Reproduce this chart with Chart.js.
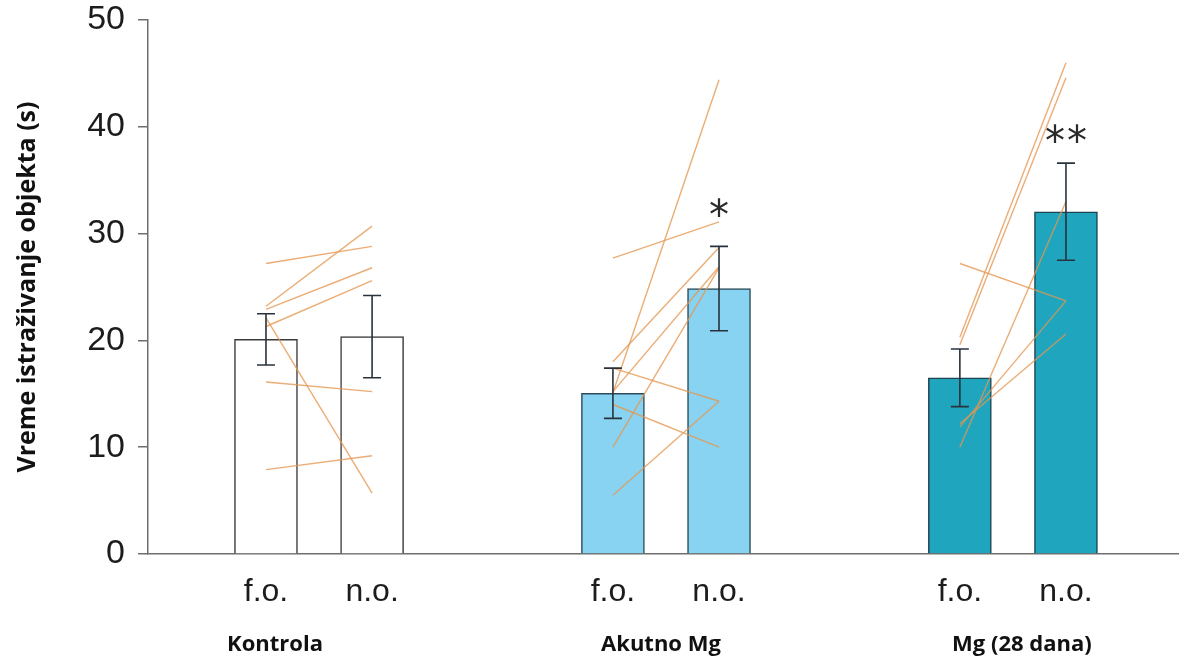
<!DOCTYPE html>
<html>
<head>
<meta charset="utf-8">
<title>Vreme istraživanje objekta</title>
<script src="https://cdn.jsdelivr.net/npm/chart.js@4.4.1/dist/chart.umd.min.js"></script>
<style>
  html, body { margin: 0; padding: 0; background: #ffffff; }
  #wrap { width: 1180px; height: 665px; position: relative; }
</style>
</head>
<body>
<div id="wrap"><canvas id="chart" width="1180" height="665"></canvas></div>
<script>
// ---- data ----
const groups = ['Kontrola', 'Akutno Mg', 'Mg (28 dana)'];
const conditions = ['f.o.', 'n.o.'];
const yTicks = [0, 10, 20, 30, 40, 50];

// group means and SEM (f.o. = familiar object, n.o. = novel object)
const meanFO = [20.1, 15.05, 16.5];
const meanNO = [20.35, 24.85, 32.05];
const semFO = [2.4, 2.35, 2.7];
const semNO = [3.85, 3.95, 4.55];
const significance = ['', '*', '**'];

// individual animals: f.o. value paired with n.o. value
const kontrolaFO = [27.2, 23.2, 22.9, 21.3, 22.1, 16.1, 7.9];
const kontrolaNO = [28.8, 30.7, 26.8, 25.6, 5.7, 15.2, 9.2];
const akutnoFO = [15.1, 27.7, 18.0, 15.2, 10.0, 17.4, 14.0, 5.5];
const akutnoNO = [44.4, 31.1, 28.7, 26.9, 26.8, 14.3, 10.0, 14.3];
const mg28FO = [20.3, 19.6, 27.2, 11.9, 10.0, 12.2];
const mg28NO = [46.0, 44.6, 23.7, 23.7, 33.0, 20.6];

// ---- layout / style ----
const GROUP_GAP = 3.27;           // distance between groups, in bar-slot units
const X_MIN = -1.112, X_MAX = 8.596;
const barFill = ['#ffffff', '#88d3f1', '#1fa6be'];
const barEdge = ['#3a3a3a', '#2c4a58', '#1d4350'];
const pairColor = 'rgba(229,150,78,0.78)';
const axisColor = '#6e6e6e';
const textColor = '#1c1c1c';
const groupLabelShift = [-44, -5, 9];
const markLift = [0, 36, 27];

const xOf = (g, c) => g * GROUP_GAP + c;

// bars
const barPoints = [];
const barBg = [];
const barBorder = [];
groups.forEach((_, g) => {
  barPoints.push({ x: xOf(g, 0), y: meanFO[g] });
  barPoints.push({ x: xOf(g, 1), y: meanNO[g] });
  barBg.push(barFill[g], barFill[g]);
  barBorder.push(barEdge[g], barEdge[g]);
});

const datasets = [{
  type: 'bar',
  data: barPoints,
  backgroundColor: barBg,
  borderColor: barBorder,
  borderWidth: 1.5,
  barThickness: 63,
  order: 3
}];

// paired lines for each animal
const pairs = [[kontrolaFO, kontrolaNO], [akutnoFO, akutnoNO], [mg28FO, mg28NO]];
pairs.forEach(([fo, no], g) => {
  fo.forEach((v, i) => {
    datasets.push({
      type: 'line',
      data: [{ x: xOf(g, 0), y: v }, { x: xOf(g, 1), y: no[i] }],
      borderColor: pairColor,
      borderWidth: 1.4,
      pointRadius: 0,
      fill: false,
      tension: 0,
      order: 1
    });
  });
});

// error bars, significance marks and group names
const overlay = {
  id: 'overlay',
  afterDatasetsDraw(chart) {
    const { ctx, scales: { x, y } } = chart;
    ctx.save();
    ctx.strokeStyle = '#28323c';
    ctx.lineWidth = 1.6;
    groups.forEach((_, g) => {
      [[meanFO[g], semFO[g], 0], [meanNO[g], semNO[g], 1]].forEach(([m, s, c]) => {
        const px = x.getPixelForValue(xOf(g, c));
        const top = y.getPixelForValue(m + s);
        const bot = y.getPixelForValue(m - s);
        ctx.beginPath();
        ctx.moveTo(px, top); ctx.lineTo(px, bot);
        ctx.moveTo(px - 9, top); ctx.lineTo(px + 9, top);
        ctx.moveTo(px - 9, bot); ctx.lineTo(px + 9, bot);
        ctx.stroke();
      });
      const mark = significance[g];
      if (mark) {
        const px = x.getPixelForValue(xOf(g, 1));
        const top = y.getPixelForValue(meanNO[g] + semNO[g]);
        ctx.fillStyle = '#2a2a2a';
        ctx.font = '40px "DejaVu Sans", sans-serif';
        ctx.textAlign = 'center';
        ctx.textBaseline = 'middle';
        const step = 22;
        const start = px - (mark.length - 1) * step / 2;
        for (let k = 0; k < mark.length; k++) {
          ctx.fillText(mark[k], start + k * step, top - markLift[g] + 8);
        }
      }
    });
    ctx.fillStyle = '#111111';
    ctx.font = 'bold 22px "Open Sans", sans-serif';
    ctx.textAlign = 'center';
    ctx.textBaseline = 'middle';
    groups.forEach((name, g) => {
      const px = x.getPixelForValue(xOf(g, 0.5)) + groupLabelShift[g];
      ctx.fillText(name, px, 645);
    });
    ctx.restore();
  }
};

const tickPositions = [];
groups.forEach((_, g) => { tickPositions.push(xOf(g, 0), xOf(g, 1)); });

new Chart(document.getElementById('chart'), {
  data: { datasets },
  plugins: [overlay],
  options: {
    responsive: false,
    animation: false,
    layout: { padding: { top: 20, right: 2, bottom: 0, left: 0 } },
    plugins: { legend: { display: false }, tooltip: { enabled: false } },
    scales: {
      x: {
        type: 'linear',
        min: X_MIN,
        max: X_MAX,
        offset: false,
        afterFit(scale) { scale.height = 111; },
        afterBuildTicks(scale) { scale.ticks = tickPositions.map(v => ({ value: v })); },
        ticks: {
          autoSkip: false,
          maxRotation: 0,
          padding: 11,
          color: textColor,
          font: { family: '"Liberation Sans", Arial, sans-serif', size: 32 },
          callback: (v, i) => conditions[i % 2]
        },
        grid: { display: false },
        border: { display: true, color: axisColor, width: 1.5 }
      },
      y: {
        min: 0,
        max: 50,
        afterFit(scale) {
          scale.width = 148;
          // the plot top is set by the layout padding alone
          scale.paddingTop = 0;
          scale.paddingBottom = 0;
        },
        afterBuildTicks(scale) { scale.ticks = yTicks.map(v => ({ value: v })); },
        ticks: {
          padding: 13,
          color: textColor,
          font: { family: '"Liberation Sans", Arial, sans-serif', size: 34 }
        },
        grid: { display: true, drawOnChartArea: false, drawTicks: true, tickLength: 10, color: axisColor, lineWidth: 1.5 },
        border: { display: true, color: axisColor, width: 1.5 },
        title: {
          display: true,
          text: 'Vreme istraživanje objekta (s)',
          color: '#111111',
          font: { family: '"Open Sans", sans-serif', size: 25, weight: 'bold' },
          padding: { top: 13, bottom: 0 }
        }
      }
    }
  }
});
</script>
</body>
</html>
